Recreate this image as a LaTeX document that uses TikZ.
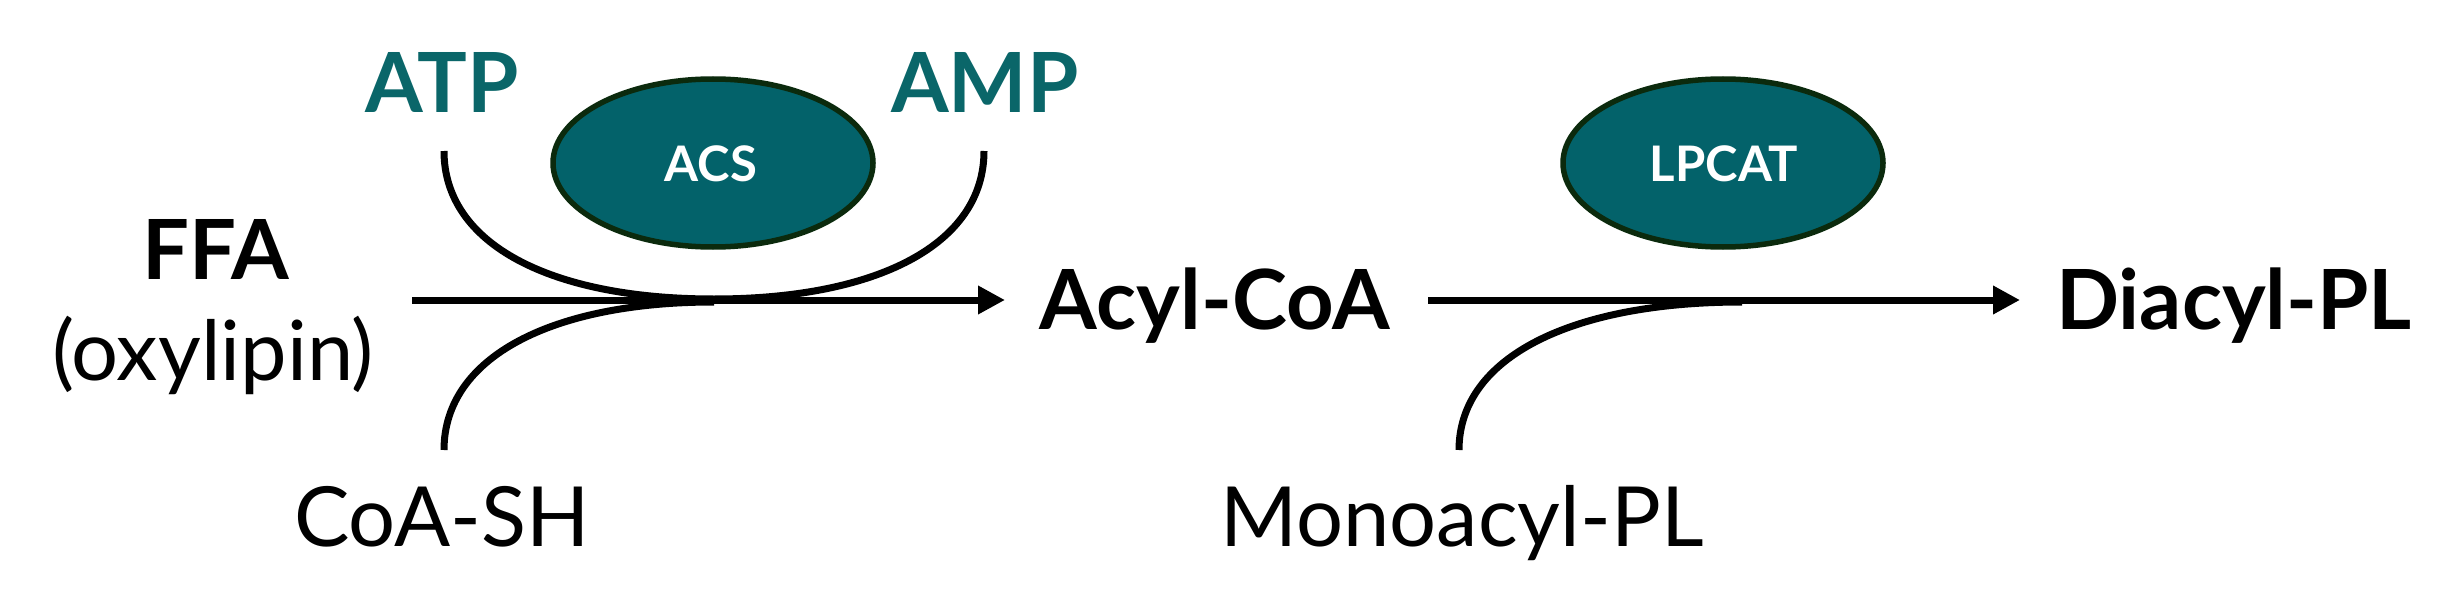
\documentclass[tikz,border=0pt]{standalone}
\usepackage{fontspec}
\setmainfont{Lato}
\usetikzlibrary{arrows.meta}
\definecolor{teal1}{HTML}{03626A}
\definecolor{tealtext}{HTML}{0A6669}
\definecolor{darkborder}{HTML}{0B2A0D}
\tikzset{
  big/.style={font=\fontsize{83}{96}\selectfont, inner sep=0pt, anchor=base},
  bigbold/.style={big, font=\fontsize{83}{96}\selectfont\bfseries},
  cofactor/.style={bigbold, text=tealtext},
  enzyme/.style={fill=teal1, draw=darkborder, line width=5.5pt},
  enzlabel/.style={font=\fontsize{49}{56}\selectfont\bfseries, text=white, inner sep=0pt, anchor=base},
  reaction/.style={line width=7pt, -{Triangle[length=27pt,width=27pt]}},
  side/.style={line width=7pt}
}
\begin{document}
\begin{tikzpicture}[x=1pt,y=-1pt]
\useasboundingbox (0,0) rectangle (2460,615);
% enzymes
\path[enzyme] (713,163) ellipse [x radius=160, y radius=84];
\path[enzyme] (1723,163) ellipse [x radius=160, y radius=84];
\node[enzlabel] (acs) at (711,182) {ACS};
\node[enzlabel] (lpcat) at (1724,182) {LPCAT};
% labels
\node[cofactor] (atp) at (442,113) {ATP};
\node[cofactor] (amp) at (985,113) {AMP};
\node[bigbold] (ffa) at (216,279) {FFA};
\node[big] (oxy) at (213,380) {(oxylipin)};
\node[bigbold] (acyl) at (1215,329) {Acyl-CoA};
\node[bigbold] (diacyl) at (2234,329) {Diacyl-PL};
\node[big] (coash) at (442,546) {CoA-SH};
\node[big] (mono) at (1462,546) {Monoacyl-PL};
% coordinates
\coordinate (r1s) at (412,300);
\coordinate (r1e) at (1005,300);
\coordinate (r2s) at (1428,300);
\coordinate (r2e) at (2020,300);
\coordinate (atpin) at (444,151);
\coordinate (ampout) at (984,151);
\coordinate (meet1) at (714,299);
\coordinate (meet1b) at (714,302);
\coordinate (coain) at (444,450);
\coordinate (monoin) at (1459,450);
\coordinate (meet2) at (1742,302);
% reactions
\draw[reaction] (r1s) -- (r1e);
\draw[reaction] (r2s) -- (r2e);
% side substrates
\draw[side] (atpin) .. controls (444,245) and (552,299) .. (meet1)
            .. controls (876,299) and (984,245) .. (ampout);
\draw[side] (coain) .. controls (444,357) and (552,302) .. (meet1b);
\draw[side] (monoin) .. controls (1459,357) and (1572,302) .. (meet2);
\end{tikzpicture}
\end{document}
